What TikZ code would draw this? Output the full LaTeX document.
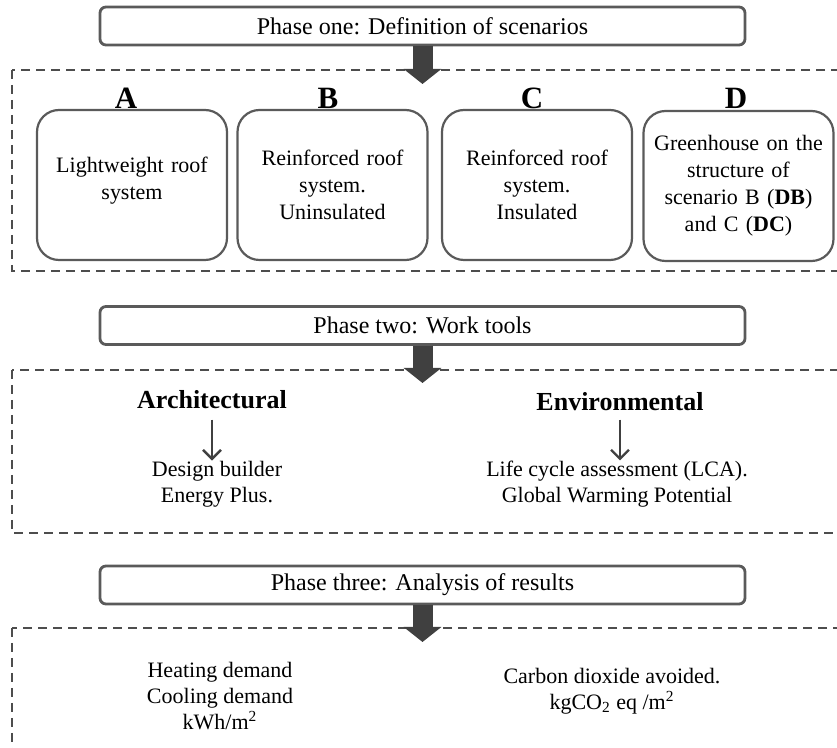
\documentclass[tikz,border=0pt]{standalone}
\usepackage{fontspec}
\setmainfont{Liberation Serif}
\usepackage{xcolor}
\definecolor{PHborder}{HTML}{5A5A5A}
\definecolor{PHarrow}{HTML}{404040}
\definecolor{PHdash}{HTML}{4D4D4D}
\usetikzlibrary{arrows.meta, positioning}

\begin{document}
\begin{tikzpicture}[x=0.5pt, y=-0.5pt]
  \tikzset{
  phasebox/.style={draw=PHborder, line width=1.4pt, rounded corners=3pt,
    minimum width=322.5pt, minimum height=19pt, inner sep=0,
    font=\fontsize{12}{14}\selectfont},
  framebox/.style={draw=PHdash, line width=1pt, dash pattern=on 4.5pt off 3pt},
  scenbox/.style={draw=PHborder, line width=1.1pt, rounded corners=11pt,
    minimum width=95pt, minimum height=75pt, text width=94pt, align=center,
    inner sep=0, font=\fontsize{11}{13.5}\selectfont},
  scenlab/.style={font=\fontsize{15.5}{17}\selectfont\bfseries, inner sep=0},
  toollab/.style={font=\fontsize{13}{15}\selectfont\bfseries, inner sep=0},
  bodytxt/.style={align=center, inner sep=0, font=\fontsize{11}{13}\selectfont},
  phasearrow/.style={PHarrow, line width=10pt, -{Triangle[length=7.5pt, width=18.5pt]}},
  toolarrow/.style={PHarrow, line width=1.2pt, -{Straight Barb[length=4.5pt, width=9pt]}},
}
\clip (0,0) rectangle (837,748);

% ── PHASE ONE: Definition of scenarios ─────────────────────────
\node[phasebox] (ph1) at (422.5,26) {Phase one: Definition of scenarios};
\draw[framebox] (12,70) rectangle (870,271);
\coordinate (tip1) at (422.5,84);
\draw[phasearrow] (ph1.south) -- (tip1);

% scenario boxes
\node[scenbox] (scA) at (132,185)   {Lightweight roof\\system\\[-6.5pt]\mbox{}};
\node[scenbox] (scB) at (332.5,185) {Reinforced roof\\system.\\Uninsulated};
\node[scenbox] (scC) at (537,185)   {Reinforced roof\\system.\\Insulated};
\node[scenbox] (scD) at (738.5,186)
  {Greenhouse on the\\structure of\\scenario B (\textbf{DB})\\and C (\textbf{DC})};

% scenario letters
\node[scenlab] (labA) at (126,98)   {A};
\node[scenlab] (labB) at (328,98)   {B};
\node[scenlab] (labC) at (532,98)   {C};
\node[scenlab] (labD) at (736,98)   {D};

% ── PHASE TWO: Work tools ──────────────────────────────────────
\node[phasebox] (ph2) at (422.5,325.5) {Phase two: Work tools};
\draw[framebox] (12,370) rectangle (870,533);
\coordinate (tip2) at (422.5,383);
\draw[phasearrow] (ph2.south) -- (tip2);

\node[toollab] (arch) at (212,400) {Architectural};
\node[toollab] (envi) at (620,402) {Environmental};

\node[bodytxt] (archtool) at (217,484) {Design builder\\Energy Plus.};
\node[bodytxt] (envitool) at (617,484)
  {Life cycle assessment (LCA).\\Global Warming Potential};

\draw[toolarrow, shorten <=5pt] (arch.south) -- (arch.south |- archtool.north);
\draw[toolarrow, shorten <=4pt] (envi.south) -- (envi.south |- envitool.north);

% ── PHASE THREE: Analysis of results ───────────────────────────
\node[phasebox] (ph3) at (422.5,585) {Phase three: Analysis of results};
\draw[framebox] (12,628) rectangle (870,800);
\coordinate (tip3) at (422.5,642);
\draw[phasearrow] (ph3.south) -- (tip3);

\node[bodytxt] (energy) at (220,696)
  {Heating demand\\Cooling demand\\kWh/m\textsuperscript{2}};
\node[bodytxt] (carbon) at (612,691)
  {Carbon dioxide avoided.\\kgCO\textsubscript{2} eq /m\textsuperscript{2}};

\end{tikzpicture}
\end{document}
